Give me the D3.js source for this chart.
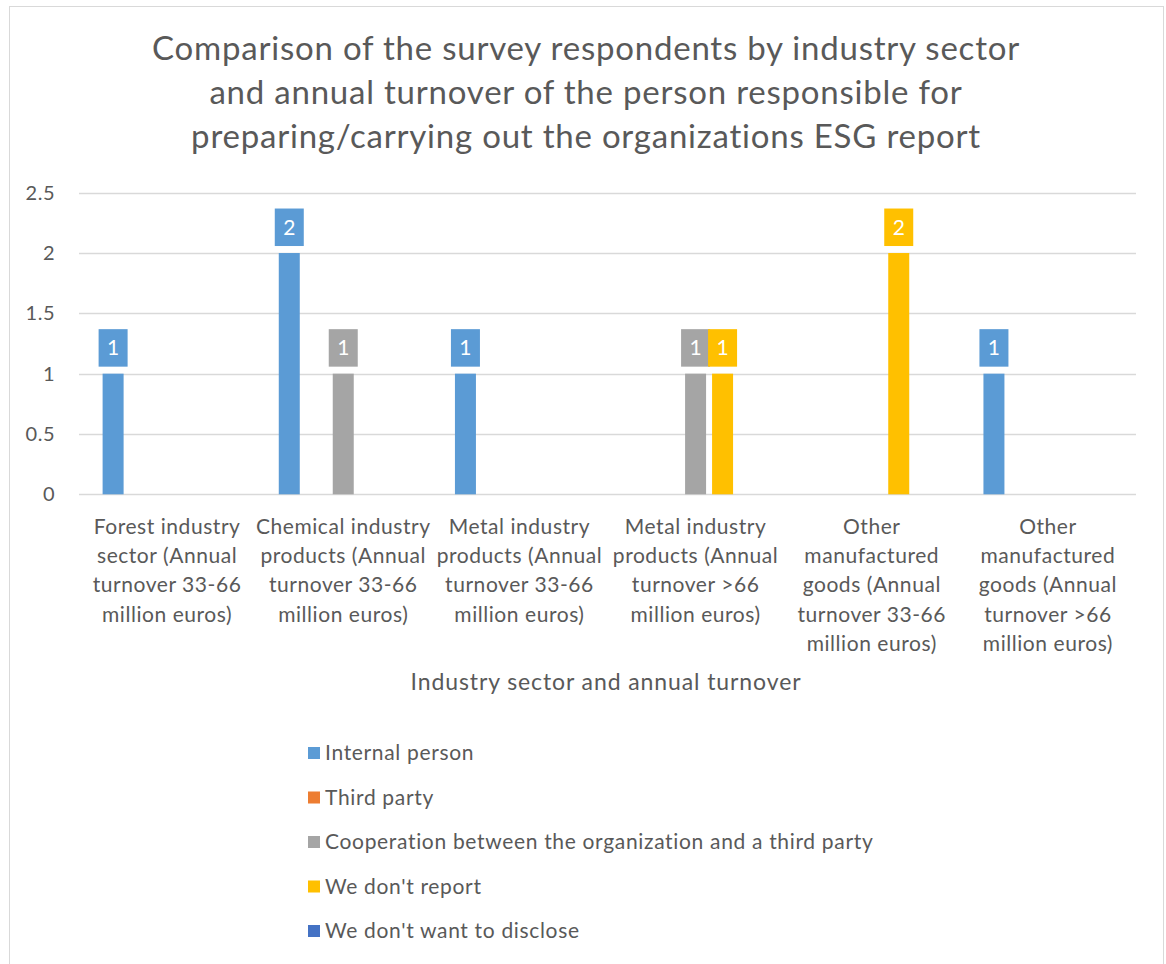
<!DOCTYPE html>
<html>
<head>
<meta charset="utf-8">
<script src="https://cdn.jsdelivr.net/npm/d3@7"></script>
<style>
  html, body { margin: 0; padding: 0; background: #fff; }
  svg { display: block; }
  text { font-family: Lato, "Open Sans", sans-serif; fill: #595959; }
</style>
</head>
<body>
<svg id="chart" width="1166" height="964"></svg>
<script>
// Categories (industry sector + annual turnover), each label split into lines
const categories = [
  ["Forest industry", "sector (Annual", "turnover 33-66", "million euros)"],
  ["Chemical industry", "products (Annual", "turnover 33-66", "million euros)"],
  ["Metal industry", "products (Annual", "turnover 33-66", "million euros)"],
  ["Metal industry", "products (Annual", "turnover >66", "million euros)"],
  ["Other", "manufactured", "goods (Annual", "turnover 33-66", "million euros)"],
  ["Other", "manufactured", "goods (Annual", "turnover >66", "million euros)"]
];

const seriesNames = [
  "Internal person",
  "Third party",
  "Cooperation between the organization and a third party",
  "We don't report",
  "We don't want to disclose"
];
const seriesColors = ["#5B9BD5", "#ED7D31", "#A5A5A5", "#FFC000", "#4472C4"];

// Respondent counts per series, one value per category
const internalPerson = [1, 2, 1, 0, 0, 1];
const thirdParty     = [0, 0, 0, 0, 0, 0];
const cooperation    = [0, 1, 0, 1, 0, 0];
const dontReport     = [0, 0, 0, 1, 2, 0];
const dontDisclose   = [0, 0, 0, 0, 0, 0];
const seriesValues = [internalPerson, thirdParty, cooperation, dontReport, dontDisclose];

const yTicks = [0, 0.5, 1, 1.5, 2, 2.5];

const titleLines = [
  "Comparison of the survey respondents by industry sector",
  "and annual turnover of the person responsible for",
  "preparing/carrying out the organizations ESG report"
];
const xAxisTitle = "Industry sector and annual turnover";

const svg = d3.select("#chart");

// chart frame
svg.append("rect")
  .attr("x", 9.5).attr("y", 6.5)
  .attr("width", 1154).attr("height", 980)
  .attr("fill", "#fff").attr("stroke", "#D9D9D9").attr("stroke-width", 1);

// title
svg.append("g").selectAll("text")
  .data(titleLines).join("text")
  .attr("x", 586).attr("y", (d, i) => 60 + i * 44)
  .attr("text-anchor", "middle")
  .style("font-size", "33px")
  .style("letter-spacing", "0.78px")
  .text(d => d);

const plot = { left: 79, right: 1136, top: 192.7, bottom: 494.3 };

const y = d3.scaleLinear().domain([0, 2.5]).range([plot.bottom, plot.top]);
const x0 = d3.scaleBand()
  .domain(d3.range(categories.length))
  .range([plot.left, plot.right])
  .paddingInner(0.234).paddingOuter(0.117);
const x1 = d3.scaleBand()
  .domain(d3.range(seriesNames.length))
  .range([0, x0.bandwidth()])
  .paddingInner(0.222).paddingOuter(0.111);

// gridlines
svg.append("g").selectAll("line")
  .data(yTicks).join("line")
  .attr("x1", plot.left).attr("x2", plot.right)
  .attr("y1", d => Math.round(y(d)) + 0.5).attr("y2", d => Math.round(y(d)) + 0.5)
  .attr("stroke", "#D9D9D9").attr("stroke-width", 1.3);

// y axis labels
const yAxis = d3.axisLeft(y).tickValues(yTicks).tickSize(0).tickPadding(0)
  .tickFormat(d3.format("~g"));
const yg = svg.append("g").attr("transform", `translate(55,0)`).call(yAxis);
yg.select(".domain").remove();
yg.selectAll("text").style("font-size", "20px").attr("fill", "#595959")
  .style("font-family", "Lato, sans-serif").style("letter-spacing", "0.5px");

// bars
const rows = [];
categories.forEach((c, ci) => {
  seriesValues.forEach((vals, si) => {
    rows.push({ ci, si, v: vals[ci] });
  });
});
const nonZero = rows.filter(r => r.v > 0);

svg.append("g").selectAll("rect")
  .data(nonZero).join("rect")
  .attr("x", d => x0(d.ci) + x1(d.si))
  .attr("width", x1.bandwidth())
  .attr("y", d => y(d.v))
  .attr("height", d => y(0) - y(d.v))
  .attr("fill", d => seriesColors[d.si]);

// data labels: coloured boxes with white value text
const lbl = svg.append("g").selectAll("g")
  .data(nonZero).join("g")
  .attr("transform", d => `translate(${x0(d.ci) + x1(d.si) + x1.bandwidth() / 2},${y(d.v) - 7})`);
lbl.append("rect")
  .attr("x", -14.5).attr("y", -37.5)
  .attr("width", 29).attr("height", 37.5)
  .attr("fill", d => seriesColors[d.si]);
lbl.append("text")
  .attr("x", 0).attr("y", -11.5)
  .attr("text-anchor", "middle")
  .style("font-size", "21px")
  .style("fill", "#fff")
  .text(d => d.v);

// category labels
const catG = svg.append("g").selectAll("text")
  .data(categories).join("text")
  .attr("text-anchor", "middle")
  .style("font-size", "21px")
  .style("letter-spacing", "0.55px")
  .attr("transform", (d, i) => `translate(${x0(i) + x0.bandwidth() / 2},534)`);
catG.selectAll("tspan")
  .data(d => d).join("tspan")
  .attr("x", 0).attr("y", (d, i) => i * 29.2)
  .text(d => d);

// x axis title
svg.append("text")
  .attr("x", 606).attr("y", 690)
  .attr("text-anchor", "middle")
  .style("font-size", "23px")
  .style("letter-spacing", "0.9px")
  .text(xAxisTitle);

// legend
const leg = svg.append("g").selectAll("g")
  .data(seriesNames).join("g")
  .attr("transform", (d, i) => `translate(308,${753 + i * 44.5})`);
leg.append("rect")
  .attr("x", 0).attr("y", -6).attr("width", 12).attr("height", 12)
  .attr("fill", (d, i) => seriesColors[i]);
leg.append("text")
  .attr("x", 17).attr("y", 7)
  .style("font-size", "21px")
  .style("letter-spacing", "0.67px")
  .text(d => d);
</script>
</body>
</html>
